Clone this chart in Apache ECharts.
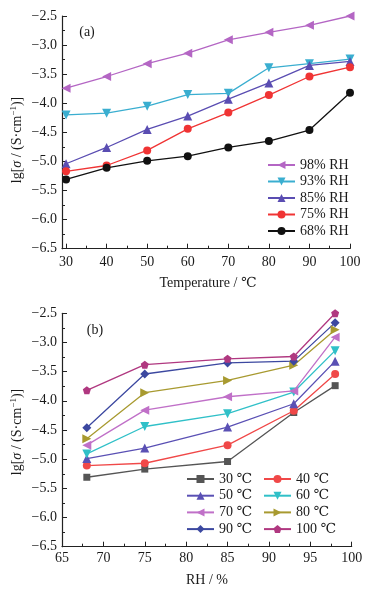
<!DOCTYPE html>
<html><head><meta charset="utf-8">
<script src="https://cdn.jsdelivr.net/npm/echarts@6/dist/echarts.min.js"></script>
<style>html,body{margin:0;padding:0;background:#fff}#c{width:371px;height:594px}</style>
</head><body><div id="c"></div>
<script>
// ---- data ----
const temps = [30, 40, 50, 60, 70, 80, 90, 100];           // °C (panel a x)
const rhValues = [68, 75, 85, 93, 98];                     // % RH (panel b x)
const rh68 = [-5.31, -5.11, -4.99, -4.91, -4.76, -4.65, -4.46, -3.82];
const rh75 = [-5.17, -5.07, -4.81, -4.44, -4.16, -3.86, -3.54, -3.38];
const rh85 = [-5.04, -4.76, -4.45, -4.22, -3.93, -3.65, -3.35, -3.28];
const rh93 = [-4.20, -4.17, -4.05, -3.85, -3.83, -3.39, -3.32, -3.24];
const rh98 = [-3.74, -3.54, -3.32, -3.14, -2.91, -2.78, -2.66, -2.50];
const tempTicks = [30, 40, 50, 60, 70, 80, 90, 100];
const tempMinorTicks = [35, 45, 55, 65, 75, 85, 95];

const FONT = "'Liberation Serif','DejaVu Serif','Noto Sans CJK SC',serif";
const TXT = '#1a1a1a';

const rhRows = [rh68, rh75, rh85, rh93, rh98];
const topSeriesDef = [
  {name: '98% RH', data: rh98, color: '#b466c4', symbol: 'triangle', rot: 90, size: 9},
  {name: '93% RH', data: rh93, color: '#3aaed0', symbol: 'triangle', rot: 180, size: 9},
  {name: '85% RH', data: rh85, color: '#5a4db2', symbol: 'triangle', rot: 0, size: 9},
  {name: '75% RH', data: rh75, color: '#f03434', symbol: 'circle', rot: 0, size: 8},
  {name: '68% RH', data: rh68, color: '#111111', symbol: 'circle', rot: 0, size: 8}
];
const pentagon = 'path://M50,0 L97.6,34.5 L79.4,90.5 L20.6,90.5 L2.4,34.5 Z';
const botDef = [
  {color: '#555555', symbol: 'rect', rot: 0, size: 7},
  {color: '#f04848', symbol: 'circle', rot: 0, size: 8},
  {color: '#5a50b4', symbol: 'triangle', rot: 0, size: 9},
  {color: '#30c0c8', symbol: 'triangle', rot: 180, size: 9},
  {color: '#c070c8', symbol: 'triangle', rot: 90, size: 9},
  {color: '#a89a30', symbol: 'triangle', rot: -90, size: 9},
  {color: '#3c48a0', symbol: 'diamond', rot: 0, size: 9},
  {color: '#b03880', symbol: pentagon, rot: 0, size: 8}
];

const series = [];
topSeriesDef.forEach(d => {
  series.push({
    name: d.name, type: 'line', xAxisIndex: 0, yAxisIndex: 0,
    data: temps.map((t, i) => [t, d.data[i]]),
    symbol: d.symbol, symbolRotate: d.rot, symbolSize: d.size,
    lineStyle: {color: d.color, width: 1.3}, itemStyle: {color: d.color},
    z: 5
  });
});
temps.forEach((t, j) => {
  const d = botDef[j];
  series.push({
    name: t + ' ℃', type: 'line', xAxisIndex: 2, yAxisIndex: 1,
    data: rhValues.map((r, i) => [r, rhRows[i][j]]),
    symbol: d.symbol, symbolRotate: d.rot, symbolSize: d.size,
    lineStyle: {color: d.color, width: 1.3}, itemStyle: {color: d.color},
    z: 5
  });
});

const minus = v => String(v).replace('-', '−');
const axisLineStyle = {show: true, lineStyle: {color: '#222', width: 1.2}};
const labelStyle = {color: TXT, fontFamily: FONT, fontSize: 14};

function yAxis(g) {
  return {
    type: 'value', gridIndex: g, min: -6.5, max: -2.5, interval: 0.5,
    axisLine: axisLineStyle,
    axisTick: {show: true, inside: true, length: 5, lineStyle: {color: '#222'}},
    minorTick: {show: true, splitNumber: 2, length: 3, lineStyle: {color: '#222'}},
    splitLine: {show: false}, minorSplitLine: {show: false},
    axisLabel: Object.assign({margin: 5, formatter: v => minus(v.toFixed(1))}, labelStyle)
  };
}

const legendText = {color: TXT, fontFamily: FONT, fontSize: 14, lineHeight: 14};

const option = {
  animation: false,
  grid: [
    {left: 62, top: 16, width: 288, height: 232.7},
    {left: 62, top: 313.3, width: 289.7, height: 233.4}
  ],
  xAxis: [
    {
      type: 'value', gridIndex: 0, min: 29, max: 100, position: 'bottom',
      axisLine: axisLineStyle,
      axisTick: {show: true, inside: true, length: 5, customValues: tempTicks, lineStyle: {color: '#222'}},
      splitLine: {show: false},
      axisLabel: Object.assign({margin: 7, customValues: tempTicks}, labelStyle)
    },
    {
      type: 'value', gridIndex: 0, min: 29, max: 100, position: 'bottom',
      axisLine: {show: false},
      axisTick: {show: true, inside: true, length: 3, customValues: tempMinorTicks, lineStyle: {color: '#222'}},
      splitLine: {show: false},
      axisLabel: {show: false}
    },
    {
      type: 'value', gridIndex: 1, min: 65, max: 100, interval: 5, position: 'bottom',
      axisLine: axisLineStyle,
      axisTick: {show: true, inside: true, length: 5, lineStyle: {color: '#222'}},
      minorTick: {show: true, splitNumber: 2, length: 3, lineStyle: {color: '#222'}},
      splitLine: {show: false}, minorSplitLine: {show: false},
      axisLabel: Object.assign({margin: 5}, labelStyle)
    }
  ],
  yAxis: [yAxis(0), yAxis(1)],
  legend: [
    {
      orient: 'vertical', left: 267, top: 158, padding: 0, itemGap: 2.5,
      itemWidth: 27, itemHeight: 10, textStyle: legendText,
      data: ['98% RH', '93% RH', '85% RH', '75% RH', '68% RH']
    },
    {
      orient: 'vertical', left: 186, top: 472, padding: 0, itemGap: 2.7,
      itemWidth: 27, itemHeight: 10, textStyle: legendText,
      data: ['30 ℃', '50 ℃', '70 ℃', '90 ℃']
    },
    {
      orient: 'vertical', left: 263, top: 472, padding: 0, itemGap: 2.7,
      itemWidth: 27, itemHeight: 10, textStyle: legendText,
      data: ['40 ℃', '60 ℃', '80 ℃', '100 ℃']
    }
  ],
  graphic: [
    {type: 'text', x: 87, y: 32, style: {text: '(a)', fill: TXT, font: '14px ' + FONT, align: 'center', verticalAlign: 'middle'}},
    {type: 'text', x: 95, y: 330, style: {text: '(b)', fill: TXT, font: '14px ' + FONT, align: 'center', verticalAlign: 'middle'}},
    {type: 'text', x: 208, y: 283, style: {text: 'Temperature / ℃', fill: TXT, font: '14px ' + FONT, align: 'center', verticalAlign: 'middle'}},
    {type: 'text', x: 207, y: 580, style: {text: 'RH / %', fill: TXT, font: '14px ' + FONT, align: 'center', verticalAlign: 'middle'}}
  ].concat([140, 432].map(cy => ({
    type: 'text', x: 17, y: cy, rotation: Math.PI / 2,
    style: {
      text: 'lg[{i|σ} / (S·cm{s|−1})]', fill: TXT, font: '14px ' + FONT,
      align: 'center', verticalAlign: 'middle', lineHeight: 16,
      rich: {
        i: {fontStyle: 'italic', fontSize: 14, fontFamily: FONT, fill: TXT, lineHeight: 16},
        s: {fontSize: 9, fontFamily: FONT, fill: TXT, verticalAlign: 'top', lineHeight: 16}
      }
    }
  }))),
  series: series
};

const chart = echarts.init(document.getElementById('c'), null, {renderer: 'canvas'});
chart.setOption(option);
</script>
</body></html>
